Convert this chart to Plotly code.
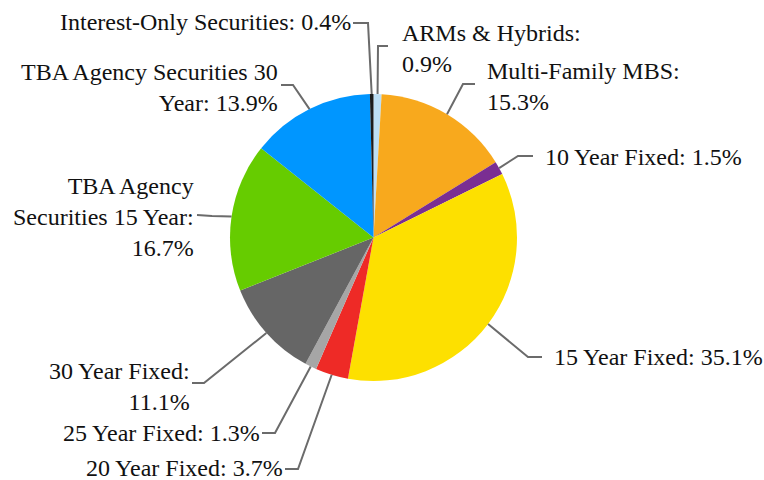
import math
import plotly.graph_objects as go

# Portfolio composition (percent), clockwise from 12 o'clock
names = [
    "ARMs & Hybrids",
    "Multi-Family MBS",
    "10 Year Fixed",
    "15 Year Fixed",
    "20 Year Fixed",
    "25 Year Fixed",
    "30 Year Fixed",
    "TBA Agency Securities 15 Year",
    "TBA Agency Securities 30 Year",
    "Interest-Only Securities",
]
values = [0.9, 15.3, 1.5, 35.1, 3.7, 1.3, 11.1, 16.7, 13.9, 0.4]
colors = ["#BDDFF5", "#F8A91D", "#7A2E92", "#FDE000", "#EE2A26",
          "#A6A6A6", "#666666", "#66CC00", "#0096FF", "#1C1C1C"]

# label text, how it wraps
label_fmt = [
    "{n}:<br>{v}%",
    "{n}:<br>{v}%",
    "{n}: {v}%",
    "{n}: {v}%",
    "{n}: {v}%",
    "{n}: {v}%",
    "{n}:<br>{v}%",
    "TBA Agency<br>Securities 15 Year:<br>{v}%",
    "TBA Agency Securities 30<br>Year: {v}%",
    "{n}: {v}%",
]

W, H = 764, 480
CX, CY, R = 373.5, 237.5, 143.5   # pie centre / radius in pixels

# leader line elbow, line end and text anchor (pixels)
placement = [
    dict(elbow=(378, 46), end=(388, 46), text=(400, 49), anchor="left"),
    dict(elbow=(463, 84), end=(475, 84), text=(485, 86), anchor="left"),
    dict(elbow=(518, 156), end=(533, 156), text=(543, 157), anchor="left"),
    dict(elbow=(528, 357), end=(542, 357), text=(552, 357), anchor="left"),
    dict(elbow=(298, 469), end=(285, 469), text=(285, 468), anchor="right"),
    dict(elbow=(275, 433), end=(262, 433), text=(262, 433), anchor="right"),
    dict(elbow=(204, 383), end=(192, 383), text=(192, 386), anchor="right"),
    dict(elbow=(212, 216), end=(197, 215), text=(196, 217), anchor="right"),
    dict(elbow=(293, 85), end=(281, 85), text=(280, 87), anchor="right"),
    dict(elbow=(368, 23), end=(353, 23), text=(353, 22), anchor="right"),
]


def px(x):
    return x / W


def py(y):
    return 1 - y / H


fig = go.Figure()
fig.add_trace(go.Pie(
    labels=names,
    values=values,
    sort=False,
    direction="clockwise",
    rotation=0,
    marker=dict(colors=colors, line=dict(width=0)),
    textinfo="none",
    showlegend=False,
    domain=dict(x=[px(CX - R), px(CX + R)], y=[py(CY + R), py(CY - R)]),
))

shapes = []
annotations = []
total = sum(values)
cum = 0
for name, val, fmt, pl in zip(names, values, label_fmt, placement):
    mid = (cum + val / 2) / total * 2 * math.pi
    cum += val
    sx = CX + R * math.sin(mid)
    sy = CY - R * math.cos(mid)
    ex, ey = pl["elbow"]
    tx, ty = pl["end"]
    shapes.append(dict(
        type="path", xref="paper", yref="paper",
        path=f"M {px(sx)},{py(sy)} L {px(ex)},{py(ey)} L {px(tx)},{py(ty)}",
        line=dict(color="#6B6B6B", width=2),
    ))
    ax, ay = pl["text"]
    annotations.append(dict(
        x=px(ax), y=py(ay), xref="paper", yref="paper",
        text=fmt.format(n=name, v=val),
        showarrow=False, xanchor=pl["anchor"], yanchor="middle",
        align=pl["anchor"],
        font=dict(family="Liberation Serif, Times New Roman, serif", size=24, color="#111111"),
    ))

fig.update_layout(
    width=W, height=H,
    margin=dict(l=0, r=0, t=0, b=0),
    paper_bgcolor="white",
    plot_bgcolor="white",
    shapes=shapes,
    annotations=annotations,
)

# drop the default page margin so the figure fills the window
fig.write_html("out.html", config={"displayModeBar": False},
               post_script="document.body.style.margin='0';")
